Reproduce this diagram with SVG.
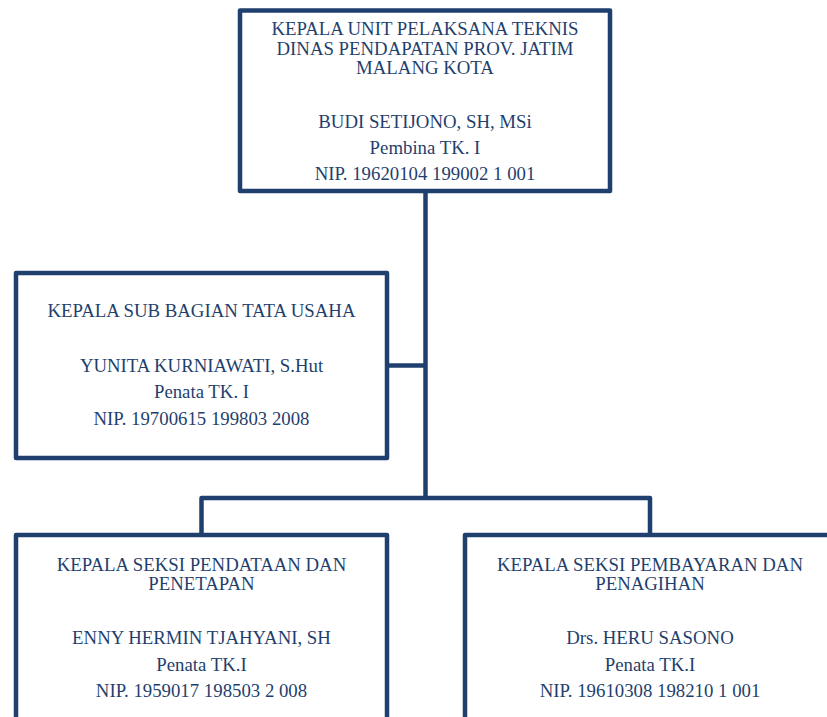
<svg xmlns="http://www.w3.org/2000/svg" width="827" height="717" viewBox="0 0 827 717">
<style>
.box{fill:#fff;stroke:#1F3F6E;stroke-width:4.5;stroke-linejoin:round}
.ln{fill:none;stroke:#1F3F6E;stroke-width:4.5;stroke-linejoin:round}
text{font-family:'Liberation Serif','Times New Roman',serif;font-size:18.8px;fill:#1F3F6E;text-anchor:middle}
</style>
<rect width="827" height="717" fill="#fff"/>
<g id="connectors">
<path class="ln" d="M425.5 192 V498"/>
<path class="ln" d="M389 365.5 H425.5"/>
<path class="ln" d="M201.5 535 V498 H650 V535"/>
</g>
<g id="kepala-upt">
<rect class="box" x="240" y="10.5" width="370" height="180.5"/>
<text x="425" y="35">KEPALA UNIT PELAKSANA TEKNIS</text>
<text x="425" y="55">DINAS PENDAPATAN PROV. JATIM</text>
<text x="425" y="74">MALANG KOTA</text>
<text x="425" y="128">BUDI SETIJONO, SH, MSi</text>
<text x="425" y="154">Pembina TK. I</text>
<text x="425" y="180">NIP. 19620104 199002 1 001</text>
</g>
<g id="kasubag-tu">
<rect class="box" x="16" y="273" width="371" height="185"/>
<text x="201.5" y="317">KEPALA SUB BAGIAN TATA USAHA</text>
<text x="201.5" y="372">YUNITA KURNIAWATI, S.Hut</text>
<text x="201.5" y="398">Penata TK. I</text>
<text x="201.5" y="425">NIP. 19700615 199803 2008</text>
</g>
<g id="kasi-pendataan">
<rect class="box" x="16" y="535" width="371" height="200"/>
<text x="201.5" y="571">KEPALA SEKSI PENDATAAN DAN</text>
<text x="201.5" y="590">PENETAPAN</text>
<text x="201.5" y="644">ENNY HERMIN TJAHYANI, SH</text>
<text x="201.5" y="671">Penata TK.I</text>
<text x="201.5" y="697">NIP. 1959017 198503 2 008</text>
</g>
<g id="kasi-pembayaran">
<rect class="box" x="465" y="535" width="371" height="200"/>
<text x="650" y="571">KEPALA SEKSI PEMBAYARAN DAN</text>
<text x="650" y="590">PENAGIHAN</text>
<text x="650" y="644">Drs. HERU SASONO</text>
<text x="650" y="671">Penata TK.I</text>
<text x="650" y="697">NIP. 19610308 198210 1 001</text>
</g>
</svg>
